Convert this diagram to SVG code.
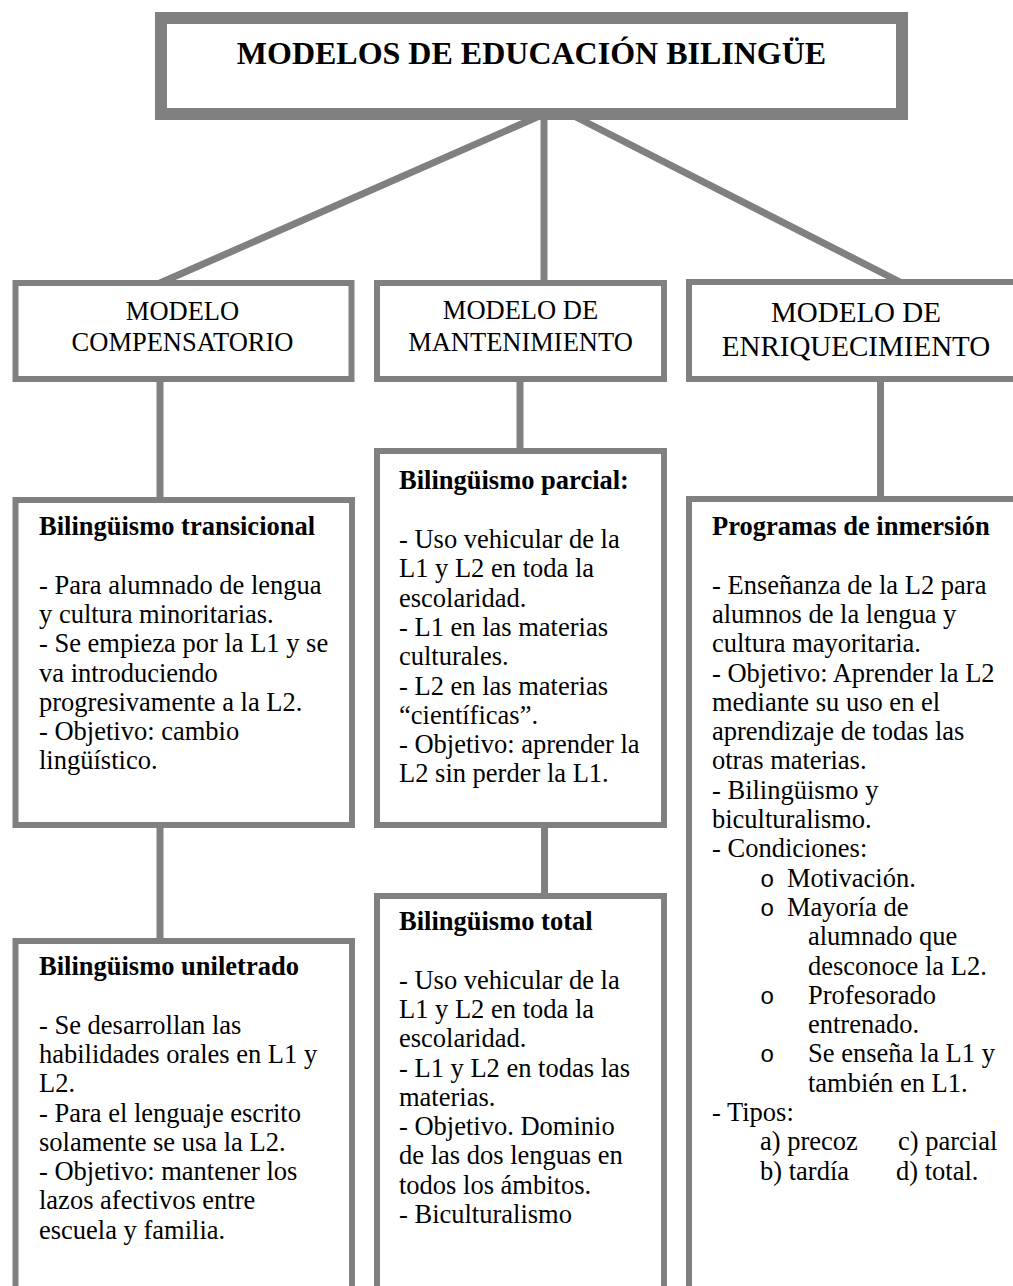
<svg xmlns="http://www.w3.org/2000/svg" width="1013" height="1286" viewBox="0 0 1013 1286">
  <style>
    .box { fill: #ffffff; stroke: #808080; stroke-width: 6; }
    .title-box { fill: #ffffff; stroke: #808080; stroke-width: 12; }
    .link { stroke: #808080; stroke-width: 7; fill: none; }
    .serif { font-family: "Liberation Serif", "Times New Roman", serif; fill: #000000; }
    .title { font-size: 32px; font-weight: bold; }
    .model { font-size: 26.5px; text-anchor: middle; }
    .model-lg { font-size: 29px; text-anchor: middle; }
    .head { font-size: 26.5px; font-weight: bold; }
    .body { font-size: 26.5px; }
    .bullet { font-family: "Liberation Mono", "Courier New", monospace; font-size: 24px; fill: #000000; }
  </style>

  <rect width="1013" height="1286" fill="#ffffff"/>

  <!-- connectors -->
  <g id="connectors">
    <line class="link" x1="544" y1="114" x2="160" y2="283"/>
    <line class="link" x1="544" y1="114" x2="544" y2="283"/>
    <line class="link" x1="570" y1="114" x2="900" y2="282"/>
    <line class="link" x1="160" y1="380" x2="160" y2="500"/>
    <line class="link" x1="160" y1="825" x2="160" y2="941"/>
    <line class="link" x1="520" y1="380" x2="520" y2="451"/>
    <line class="link" x1="544.5" y1="825" x2="544.5" y2="896"/>
    <line class="link" x1="880.5" y1="380" x2="880.5" y2="499"/>
  </g>

  <!-- title -->
  <g id="title">
    <rect class="title-box" x="161" y="18" width="741" height="96"/>
    <text class="serif title" x="531.5" y="64" text-anchor="middle" font-family="Liberation Serif, serif">MODELOS DE EDUCACIÓN BILINGÜE</text>
  </g>

  <!-- model boxes -->
  <g id="modelo-compensatorio">
    <rect class="box" x="15.5" y="283" width="336" height="96"/>
    <text class="serif model" x="182.5" y="320" font-family="Liberation Serif, serif">MODELO</text>
    <text class="serif model" x="182.5" y="351" font-family="Liberation Serif, serif">COMPENSATORIO</text>
  </g>

  <g id="modelo-mantenimiento">
    <rect class="box" x="377" y="283" width="287" height="96"/>
    <text class="serif model" x="520.5" y="319" font-family="Liberation Serif, serif">MODELO DE</text>
    <text class="serif model" x="520.5" y="351" font-family="Liberation Serif, serif">MANTENIMIENTO</text>
  </g>

  <g id="modelo-enriquecimiento">
    <rect class="box" x="689" y="282" width="340" height="97"/>
    <text class="serif model-lg" x="856" y="322" font-family="Liberation Serif, serif">MODELO DE</text>
    <text class="serif model-lg" x="856" y="356" font-family="Liberation Serif, serif">ENRIQUECIMIENTO</text>
  </g>

  <!-- column 1 -->
  <g id="bilinguismo-transicional">
    <rect class="box" x="15.5" y="500" width="336.5" height="325"/>
    <text class="serif head" x="39" y="535">Bilingüismo transicional</text>
    <text class="serif body">
      <tspan x="39" y="593.6">- Para alumnado de lengua</tspan>
      <tspan x="39" y="622.9">y cultura minoritarias.</tspan>
      <tspan x="39" y="652.2">- Se empieza por la L1 y se</tspan>
      <tspan x="39" y="681.5">va introduciendo</tspan>
      <tspan x="39" y="710.8">progresivamente a la L2.</tspan>
      <tspan x="39" y="740.1">- Objetivo: cambio</tspan>
      <tspan x="39" y="769.4">lingüístico.</tspan>
    </text>
  </g>

  <g id="bilinguismo-uniletrado">
    <rect class="box" x="15.5" y="941" width="336.5" height="400"/>
    <text class="serif head" x="39" y="975">Bilingüismo uniletrado</text>
    <text class="serif body">
      <tspan x="39" y="1033.6">- Se desarrollan las</tspan>
      <tspan x="39" y="1062.9">habilidades orales en L1 y</tspan>
      <tspan x="39" y="1092.2">L2.</tspan>
      <tspan x="39" y="1121.5">- Para el lenguaje escrito</tspan>
      <tspan x="39" y="1150.8">solamente se usa la L2.</tspan>
      <tspan x="39" y="1180.1">- Objetivo: mantener los</tspan>
      <tspan x="39" y="1209.4">lazos afectivos entre</tspan>
      <tspan x="39" y="1238.7">escuela y familia.</tspan>
    </text>
  </g>

  <!-- column 2 -->
  <g id="bilinguismo-parcial">
    <rect class="box" x="377" y="451" width="287" height="374"/>
    <text class="serif head" x="399" y="489">Bilingüismo parcial:</text>
    <text class="serif body">
      <tspan x="399" y="548">- Uso vehicular de la</tspan>
      <tspan x="399" y="577.3">L1 y L2 en toda la</tspan>
      <tspan x="399" y="606.6">escolaridad.</tspan>
      <tspan x="399" y="635.9">- L1 en las materias</tspan>
      <tspan x="399" y="665.2">culturales.</tspan>
      <tspan x="399" y="694.5">- L2 en las materias</tspan>
      <tspan x="399" y="723.8">“científicas”.</tspan>
      <tspan x="399" y="753.1">- Objetivo: aprender la</tspan>
      <tspan x="399" y="782.4">L2 sin perder la L1.</tspan>
    </text>
  </g>

  <g id="bilinguismo-total">
    <rect class="box" x="377" y="896" width="287" height="450"/>
    <text class="serif head" x="399" y="930">Bilingüismo total</text>
    <text class="serif body">
      <tspan x="399" y="988.6">- Uso vehicular de la</tspan>
      <tspan x="399" y="1017.9">L1 y L2 en toda la</tspan>
      <tspan x="399" y="1047.2">escolaridad.</tspan>
      <tspan x="399" y="1076.5">- L1 y L2 en todas las</tspan>
      <tspan x="399" y="1105.8">materias.</tspan>
      <tspan x="399" y="1135.1">- Objetivo. Dominio</tspan>
      <tspan x="399" y="1164.4">de las dos lenguas en</tspan>
      <tspan x="399" y="1193.7">todos los ámbitos.</tspan>
      <tspan x="399" y="1223">- Biculturalismo</tspan>
    </text>
  </g>

  <!-- column 3 -->
  <g id="programas-inmersion">
    <rect class="box" x="689" y="499" width="340" height="900"/>
    <text class="serif head" x="712" y="535">Programas de inmersión</text>
    <text class="serif body">
      <tspan x="712" y="593.6">- Enseñanza de la L2 para</tspan>
      <tspan x="712" y="622.9">alumnos de la lengua y</tspan>
      <tspan x="712" y="652.2">cultura mayoritaria.</tspan>
      <tspan x="712" y="681.5">- Objetivo: Aprender la L2</tspan>
      <tspan x="712" y="710.8">mediante su uso en el</tspan>
      <tspan x="712" y="740.1">aprendizaje de todas las</tspan>
      <tspan x="712" y="769.4">otras materias.</tspan>
      <tspan x="712" y="798.7">- Bilingüismo y</tspan>
      <tspan x="712" y="828">biculturalismo.</tspan>
      <tspan x="712" y="857.3">- Condiciones:</tspan>
      <tspan x="787" y="886.6">Motivación.</tspan>
      <tspan x="787" y="915.9">Mayoría de</tspan>
      <tspan x="808" y="945.2">alumnado que</tspan>
      <tspan x="808" y="974.5">desconoce la L2.</tspan>
      <tspan x="808" y="1003.8">Profesorado</tspan>
      <tspan x="808" y="1033.1">entrenado.</tspan>
      <tspan x="808" y="1062.4">Se enseña la L1 y</tspan>
      <tspan x="808" y="1091.7">también en L1.</tspan>
      <tspan x="712" y="1121">- Tipos:</tspan>
      <tspan x="760" y="1150.3">a) precoz</tspan>
      <tspan x="898" y="1150.3">c) parcial</tspan>
      <tspan x="760" y="1179.6">b) tardía</tspan>
      <tspan x="896" y="1179.6">d) total.</tspan>
    </text>
    <text class="bullet">
      <tspan x="760" y="886.6">o</tspan>
      <tspan x="760" y="915.9">o</tspan>
      <tspan x="760" y="1003.8">o</tspan>
      <tspan x="760" y="1062.4">o</tspan>
    </text>
  </g>
</svg>
